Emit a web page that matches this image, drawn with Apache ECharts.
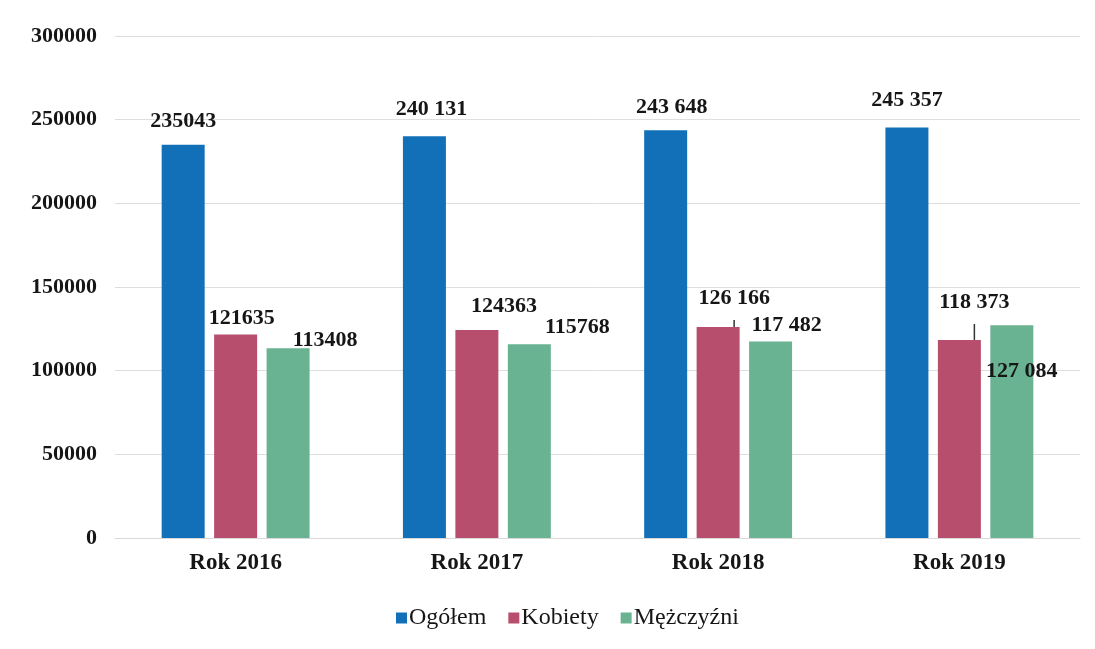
<!DOCTYPE html>
<html>
<head>
<meta charset="utf-8">
<script src="https://cdn.jsdelivr.net/npm/echarts@6/dist/echarts.min.js"></script>
<style>
  html, body { margin: 0; padding: 0; background: #fff; }
  #chart { width: 1095px; height: 649px; }
</style>
</head>
<body>
<div id="chart"></div>
<script>
// lata
var categories = ['Rok 2016', 'Rok 2017', 'Rok 2018', 'Rok 2019'];
// wartości serii
var ogolem = [235043, 240131, 243648, 245357];
var kobiety = [121635, 124363, 126166, 118373];
var mezczyzni = [113408, 115768, 117482, 127084];
// etykiety tak jak w oryginale (różne formaty)
var ogolemLabels = ['235043', '240 131', '243 648', '245 357'];
var kobietyLabels = ['121635', '124363', '126 166', '118 373'];
var mezczyzniLabels = ['113408', '115768', '117 482', '127 084'];

var myChart = echarts.init(document.getElementById('chart'));

var serif = '"Liberation Serif", "DejaVu Serif", serif';
var labelFont = {
  fontFamily: serif,
  fontWeight: 'bold',
  fontSize: 22,
  color: '#161616'
};

// przesunięcia etykiet [dx, dy] względem pozycji 'top'
var ogolemShift = [[0, -12], [7, -16], [6, -12], [0, -16]];
var kobietyShift = [[6, -5], [27, -13], [16, -18], [15, -27]];
var mezczyzniShift = [[37, 3], [48, -6], [16, -5], [10, 57]];
var kobietyLine = [false, false, true, true];

function buildData(values, labels, shift, lines) {
  return values.map(function (v, i) {
    return {
      value: v,
      label: { formatter: labels[i], offset: shift[i] },
      labelLine: { show: lines ? lines[i] : false }
    };
  });
}

var option = {
  animation: false,
  backgroundColor: '#fff',
  grid: { left: 115, right: 15, top: 36, bottom: 111 },
  legend: {
    bottom: 14,
    left: 391,
    itemWidth: 11,
    itemHeight: 11,
    itemGap: 22,
    icon: 'rect',
    textStyle: {
      fontFamily: serif,
      fontSize: 24,
      color: '#161616',
      padding: [0, 0, 0, -3]
    },
    data: ['Ogółem', 'Kobiety', 'Mężczyźni']
  },
  xAxis: {
    type: 'category',
    data: categories,
    axisTick: { show: false },
    axisLine: { lineStyle: { color: '#d9d9d9', width: 1 } },
    axisLabel: {
      margin: 14,
      fontFamily: serif,
      fontWeight: 'bold',
      fontSize: 23,
      color: '#161616'
    }
  },
  yAxis: {
    type: 'value',
    min: 0,
    max: 300000,
    interval: 50000,
    axisLine: { show: false },
    axisTick: { show: false },
    splitLine: { lineStyle: { color: '#dedede', width: 1 } },
    axisLabel: {
      margin: 18,
      formatter: function (v) { return String(v); },
      fontFamily: serif,
      fontWeight: 'bold',
      fontSize: 22,
      color: '#161616'
    }
  },
  series: [
    {
      name: 'Ogółem',
      type: 'bar',
      barWidth: 43,
      barGap: '22%',
      itemStyle: { color: '#1170b8' },
      label: Object.assign({ show: true, position: 'top', distance: 0 }, labelFont),
      data: buildData(ogolem, ogolemLabels, ogolemShift)
    },
    {
      name: 'Kobiety',
      type: 'bar',
      barWidth: 43,
      barGap: '22%',
      itemStyle: { color: '#b84e6d' },
      label: Object.assign({ show: true, position: 'top', distance: 0 }, labelFont),
      labelLine: { lineStyle: { color: '#333', width: 1.5 } },
      data: buildData(kobiety, kobietyLabels, kobietyShift, kobietyLine)
    },
    {
      name: 'Mężczyźni',
      type: 'bar',
      barWidth: 43,
      barGap: '22%',
      itemStyle: { color: '#69b292' },
      label: Object.assign({ show: true, position: 'top', distance: 0 }, labelFont),
      data: buildData(mezczyzni, mezczyzniLabels, mezczyzniShift)
    }
  ]
};

myChart.setOption(option);
</script>
</body>
</html>
